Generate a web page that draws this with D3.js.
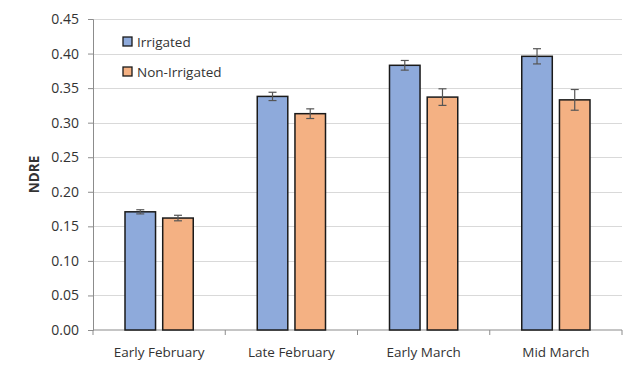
<!DOCTYPE html>
<html>
<head>
<meta charset="utf-8">
<script src="https://cdn.jsdelivr.net/npm/d3@7"></script>
<style>
  body { margin: 0; background: #fff; }
  text { font-family: "Open Sans", "Liberation Sans", sans-serif; fill: #333; }
</style>
</head>
<body>
<svg width="640" height="371"></svg>
<script>
var categories = ["Early February", "Late February", "Early March", "Mid March"];
var seriesNames = ["Irrigated", "Non-Irrigated"];
var irrigated = [0.171, 0.338, 0.383, 0.396];
var nonIrrigated = [0.162, 0.313, 0.337, 0.333];
var irrigatedErr = [0.003, 0.006, 0.007, 0.011];
var nonIrrigatedErr = [0.004, 0.007, 0.012, 0.015];
var yTicks = [0, 0.05, 0.1, 0.15, 0.2, 0.25, 0.3, 0.35, 0.4, 0.45];

var colors = ["#8eaadb", "#f4b183"];

var svg = d3.select("svg"),
    margin = {left: 93, right: 18, top: 19, bottom: 41},
    width = +svg.attr("width") - margin.left - margin.right,
    height = +svg.attr("height") - margin.top - margin.bottom;

var g = svg.append("g").attr("transform", "translate(" + margin.left + "," + margin.top + ")");

var x0 = d3.scaleBand().domain(categories).range([0, width]).paddingInner(0).paddingOuter(0);
var x1 = d3.scaleBand().domain(seriesNames).range([32, x0.bandwidth() - 32]).paddingInner(0.19);
var y = d3.scaleLinear().domain([0, 0.45]).range([height, 0]);

// gridlines
g.append("g").selectAll("line")
  .data(yTicks.slice(1))
  .enter().append("line")
    .attr("x1", 0).attr("x2", width)
    .attr("y1", function(d) { return Math.round(y(d)) + 0.5; })
    .attr("y2", function(d) { return Math.round(y(d)) + 0.5; })
    .attr("stroke", "#d9d9d9").attr("stroke-width", 1.2);

// y axis
var yAxis = g.append("g")
  .call(d3.axisLeft(y).tickValues(yTicks).tickFormat(d3.format(".2f")).tickSizeOuter(0).tickSize(5).tickPadding(9));
yAxis.select(".domain").attr("stroke", "#8c8c8c");
yAxis.selectAll(".tick line").attr("stroke", "#8c8c8c");
yAxis.selectAll("text").style("font-size", "14px").attr("fill", "#333");

// x axis
var xAxis = g.append("g").attr("transform", "translate(0," + height + ")");
xAxis.append("line").attr("x1", 0).attr("x2", width).attr("stroke", "#8c8c8c").attr("stroke-width", 1.2);
xAxis.selectAll(".xt")
  .data(d3.range(categories.length + 1))
  .enter().append("line")
    .attr("x1", function(i) { return i * x0.step(); })
    .attr("x2", function(i) { return i * x0.step(); })
    .attr("y1", 0).attr("y2", 5)
    .attr("stroke", "#8c8c8c");
xAxis.selectAll(".xl")
  .data(categories)
  .enter().append("text")
    .attr("x", function(d) { return x0(d) + x0.bandwidth() / 2; })
    .attr("y", 27)
    .attr("text-anchor", "middle")
    .style("font-size", "13.5px")
    .text(function(d) { return d; });

// y label
g.append("text")
  .attr("transform", "translate(-54," + (height / 2) + ") rotate(-90)")
  .attr("text-anchor", "middle")
  .style("font-size", "13.5px")
  .style("font-weight", "bold")
  .attr("fill", "#222")
  .text("NDRE");

// bars
var rows = categories.map(function(c, i) {
  return {cat: c, vals: [
    {s: seriesNames[0], v: irrigated[i], e: irrigatedErr[i], c: colors[0]},
    {s: seriesNames[1], v: nonIrrigated[i], e: nonIrrigatedErr[i], c: colors[1]}
  ]};
});

var groups = g.selectAll(".grp")
  .data(rows)
  .enter().append("g")
    .attr("transform", function(d) { return "translate(" + x0(d.cat) + ",0)"; });

groups.selectAll("rect")
  .data(function(d) { return d.vals; })
  .enter().append("rect")
    .attr("x", function(d) { return x1(d.s); })
    .attr("y", function(d) { return y(d.v); })
    .attr("width", x1.bandwidth())
    .attr("height", function(d) { return height - y(d.v); })
    .attr("fill", function(d) { return d.c; })
    .attr("stroke", "#1a1a1a")
    .attr("stroke-width", 1.5);

// error bars
var eb = groups.selectAll(".eb")
  .data(function(d) { return d.vals; })
  .enter().append("g")
    .attr("stroke", "#555").attr("stroke-width", 1.2);
eb.append("line")
  .attr("x1", function(d) { return x1(d.s) + x1.bandwidth() / 2; })
  .attr("x2", function(d) { return x1(d.s) + x1.bandwidth() / 2; })
  .attr("y1", function(d) { return y(d.v + d.e); })
  .attr("y2", function(d) { return y(d.v - d.e); });
eb.append("line")
  .attr("x1", function(d) { return x1(d.s) + x1.bandwidth() / 2 - 4; })
  .attr("x2", function(d) { return x1(d.s) + x1.bandwidth() / 2 + 4; })
  .attr("y1", function(d) { return y(d.v + d.e); })
  .attr("y2", function(d) { return y(d.v + d.e); });
eb.append("line")
  .attr("x1", function(d) { return x1(d.s) + x1.bandwidth() / 2 - 4; })
  .attr("x2", function(d) { return x1(d.s) + x1.bandwidth() / 2 + 4; })
  .attr("y1", function(d) { return y(d.v - d.e); })
  .attr("y2", function(d) { return y(d.v - d.e); });

// legend
var legend = svg.append("g").attr("transform", "translate(123,37)");
var li = legend.selectAll("g")
  .data(seriesNames)
  .enter().append("g")
    .attr("transform", function(d, i) { return "translate(0," + (i * 30) + ")"; });
li.append("rect")
  .attr("width", 9).attr("height", 9)
  .attr("fill", function(d, i) { return colors[i]; })
  .attr("stroke", "#1a1a1a").attr("stroke-width", 1.3);
li.append("text")
  .attr("x", 14).attr("y", 9.5)
  .style("font-size", "13.5px")
  .text(function(d) { return d; });
</script>
</body>
</html>
